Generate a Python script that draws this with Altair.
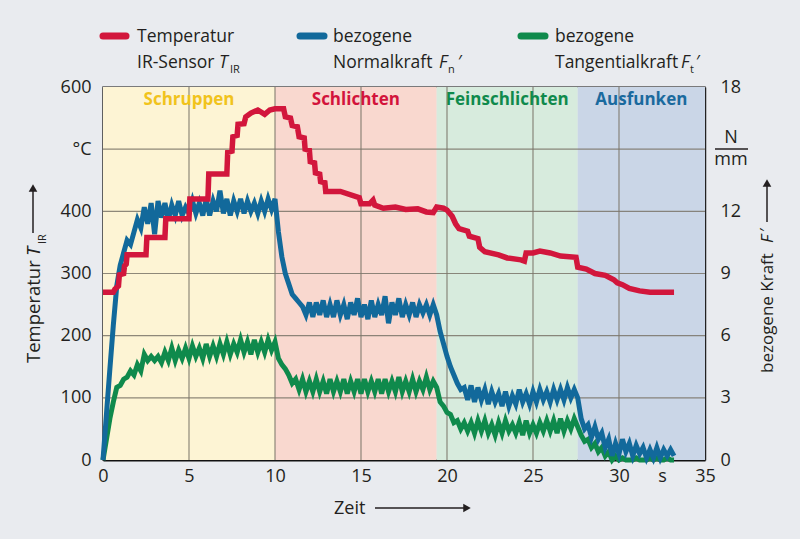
import altair as alt
import numpy as np
import pandas as pd

# ---------------- data ----------------
phase_names = ["Schruppen", "Schlichten", "Feinschlichten", "Ausfunken"]
phase_start = [0, 10, 19.4, 27.6]
phase_end = [10, 19.4, 27.6, 35]
phase_fill = ["#fdf4d4", "#f9d8cf", "#d7ebdd", "#cad6e7"]
phase_text = ["#f1c31c", "#d3133b", "#0f8a4c", "#1a6a9e"]

grid_x = [5, 10, 15, 20, 25, 30]
grid_y = [100, 200, 300, 400, 500]

# temperature IR sensor (°C)
temp_t = [0, 0.6, 0.7, 0.9, 0.95, 1.2, 1.25, 1.35, 1.4, 2.5, 2.55, 3.6, 3.65, 5.0, 5.05, 6.1, 6.15,
          7.2, 7.25, 7.5, 7.55, 7.8, 7.85, 8.2, 8.3, 8.6, 9.0, 9.4, 9.7, 10.0, 10.5, 10.6, 10.9,
          11.0, 11.3, 11.4, 11.7, 11.75, 12.0, 12.05, 12.3, 12.35, 12.6, 12.65, 12.9, 12.95, 13.8,
          14.9, 15.0, 15.5, 15.7, 15.8, 16.3, 17.0, 17.6, 18.3, 18.8, 19.2, 19.4, 19.8, 20.0, 20.3,
          20.5, 20.7, 21.2, 21.3, 21.8, 21.9, 22.2, 23.0, 23.5, 24.3, 24.5, 24.6, 25.0, 25.4, 26.0,
          26.6, 27.5, 27.6, 28.1, 28.6, 29.2, 29.7, 29.9, 30.2, 30.6, 31.2, 31.8, 33.2]
temp_v = [270, 270, 275, 280, 298, 300, 312, 315, 330, 330, 358, 358, 388, 388, 420, 420, 460,
          460, 495, 497, 520, 522, 540, 541, 552, 558, 563, 556, 563, 565, 565, 552, 550,
          538, 536, 520, 518, 500, 498, 480, 478, 462, 460, 448, 446, 432, 432,
          422, 412, 412, 418, 410, 405, 407, 403, 404, 399, 398, 407, 405, 402, 392,
          380, 372, 368, 360, 356, 342, 335, 330, 325, 322, 320, 333, 333, 336, 333,
          328, 326, 310, 307, 300, 297, 290, 285, 282, 276, 272, 270, 270]

# force sampling times (s), every 0.2 s
force_t = [round(0.2 * i, 1) for i in range(167)]

# normal force F_n' (N/mm)
normal_force = [
    0, 2.2, 4.4, 6.5, 8.4, 9.4, 10.0, 10.6, 10.4, 11.0,
    11.6, 11.2, 12.2, 11.4, 12.4, 10.9, 12.5, 11.7, 12.4, 11.6,
    12.3, 11.8, 12.5, 11.8, 12.2, 11.9, 12.5, 11.9, 12.4, 11.8,
    12.6, 11.8, 12.5, 12.0, 13.0, 11.9, 12.6, 11.8, 12.5, 12.0,
    12.6, 11.9, 12.5, 12.0, 12.4, 11.9, 12.5, 12.0, 12.6, 12.1,
    12.6, 11.0, 9.8, 9.0, 8.5, 8.0, 7.8, 7.6, 7.4, 7.0,
    7.6, 6.9, 7.6, 7.0, 7.7, 6.9, 7.5, 6.9, 7.7, 7.0,
    7.5, 6.8, 7.6, 7.0, 7.8, 6.9, 7.5, 6.8, 7.7, 6.9,
    7.5, 7.0, 7.9, 6.6, 7.6, 7.0, 7.8, 6.9, 7.5, 7.0,
    7.6, 6.9, 7.5, 7.1, 7.5, 7.0, 7.5, 7.0, 6.2, 5.6,
    5.0, 4.5, 4.1, 3.7, 3.4, 3.5, 2.9, 3.6, 2.8, 3.5,
    2.9, 3.4, 2.7, 3.3, 2.8, 3.2, 2.6, 3.3, 2.6, 3.1,
    2.7, 3.4, 2.8, 3.2, 2.7, 3.3, 2.8, 3.4, 2.9, 3.3,
    2.8, 3.4, 2.9, 3.4, 2.9, 3.5, 3.0, 3.4, 3.0, 2.0,
    1.5, 1.7, 1.1, 1.6, 1.0, 1.3, 0.6, 1.0, 0.2, 0.8,
    0.3, 1.0, 0.4, 0.8, 0.2, 0.7, 0.3, 0.6, 0.1, 0.5,
    0.1, 0.6, 0.1, 0.5, 0.2, 0.5, 0.2]

# tangential force F_t' (N/mm)
tangential_force = [
    0, 1.0, 2.0, 2.8, 3.5, 3.6, 3.9, 4.0, 4.3, 4.1,
    4.6, 4.3, 5.1, 4.8, 5.0, 4.8, 5.0, 4.7, 5.2, 4.8,
    5.4, 4.8, 5.3, 4.9, 5.4, 4.9, 5.5, 5.0, 5.4, 4.9,
    5.6, 5.0, 5.5, 5.0, 5.6, 5.1, 5.7, 5.1, 5.6, 5.2,
    5.8, 5.2, 5.7, 5.1, 5.8, 5.2, 5.7, 5.2, 5.8, 5.3,
    5.7, 4.9, 4.6, 4.4, 4.1, 3.7, 3.9, 3.4, 3.9, 3.3,
    3.8, 3.3, 3.9, 3.3, 3.8, 3.2, 3.9, 3.3, 3.8, 3.3,
    3.9, 3.2, 3.8, 3.3, 3.9, 3.2, 3.9, 3.3, 3.8, 3.3,
    3.9, 3.2, 3.9, 3.3, 3.8, 3.3, 4.0, 3.3, 3.8, 3.3,
    3.9, 3.3, 3.8, 3.4, 4.0, 3.4, 3.8, 3.5, 2.8, 2.6,
    2.3, 2.2, 1.8, 1.9, 1.5, 1.8, 1.4, 1.8, 1.3, 1.9,
    1.4, 1.9, 1.3, 1.7, 1.2, 1.8, 1.3, 1.9, 1.4, 1.7,
    1.3, 1.8, 1.2, 1.9, 1.3, 1.7, 1.3, 1.8, 1.4, 1.9,
    1.4, 1.9, 1.3, 2.0, 1.4, 1.9, 1.5, 2.0, 1.6, 1.2,
    0.9, 1.0, 0.6, 0.8, 0.4, 0.6, 0.2, 0.4, 0.0, 0.2,
    0.0, 0.1, 0.0, 0.0, 0.0, 0.1, 0.0, 0.0, 0.0, 0.1,
    0.0, 0.1, 0.0, 0.0, 0.1, 0.0, 0.0]

x_ticks = [0, 5, 10, 15, 20, 25, 30, 32.5, 35]
temp_ticks = [0, 100, 200, 300, 400, 500, 600]
force_ticks = [0, 3, 6, 9, 12, 15, 18]

RED, BLUE, GREEN = "#d2163c", "#12699b", "#0f8a4c"

# ---------------- layout ----------------
W, H = 602, 373
FONT = "Open Sans"
INK = "#231f20"
FS = 18
LFS = 17.5

phase_df = pd.DataFrame({"name": phase_names, "start": phase_start, "end": phase_end,
                         "fill": phase_fill, "tcolor": phase_text})
temp_df = pd.DataFrame({"t": temp_t, "T": temp_v})
force_df = pd.DataFrame({"t": force_t, "Fn": normal_force, "Ft": tangential_force})

xs = alt.Scale(domain=[0, 35], nice=False, zero=False)
x_axis = alt.Axis(values=x_ticks, labelExpr="datum.value == 32.5 ? 's' : datum.label",
                  ticks=False, grid=False, domainColor="#111", domainWidth=2,
                  labelFontSize=FS, labelPadding=7, labelColor=INK, labelFont=FONT,
                  title=None, labelOverlap=False, labelFlush=False)
temp_scale = alt.Scale(domain=[0, 600], nice=False, zero=True)
force_scale = alt.Scale(domain=[0, 18], nice=False, zero=True)


def X(field):
    return alt.X(field, scale=xs, axis=x_axis)


regions = alt.Chart(phase_df).mark_rect().encode(
    x=X("start:Q"), x2="end:Q", y=alt.value(0), y2=alt.value(H),
    color=alt.Color("fill:N", scale=None))

region_labels = alt.Chart(phase_df).transform_calculate(
    mid="(datum.start + datum.end) / 2").mark_text(
    font=FONT, fontSize=17, fontWeight="bold", baseline="middle").encode(
    x=X("mid:Q"), y=alt.value(13), text="name:N", color=alt.Color("tcolor:N", scale=None))

vgrid = alt.Chart(pd.DataFrame({"g": grid_x})).mark_rule(
    color="#7a7468", strokeWidth=1.2, opacity=0.85).encode(x=X("g:Q"))
hgrid = alt.Chart(pd.DataFrame({"g": grid_y})).mark_rule(
    color="#7a7468", strokeWidth=1.2, opacity=0.85).encode(
    y=alt.Y("g:Q", scale=temp_scale, axis=None))

green_line = alt.Chart(force_df).mark_line(color=GREEN, strokeWidth=5).encode(
    x=X("t:Q"), y=alt.Y("Ft:Q", scale=force_scale, axis=None))
blue_line = alt.Chart(force_df).mark_line(color=BLUE, strokeWidth=5).encode(
    x=X("t:Q"),
    y=alt.Y("Fn:Q", scale=force_scale,
            axis=alt.Axis(orient="right", values=force_ticks,
                          labelExpr="datum.value == 15 ? '' : datum.label",
                          ticks=False, grid=False, domainColor="#222", domainWidth=1.5,
                          labelFontSize=FS, labelPadding=15, labelColor=INK, labelFont=FONT,
                          title=None, labelAlign="left")))
red_line = alt.Chart(temp_df).mark_line(color=RED, strokeWidth=5.5).encode(
    x=X("t:Q"),
    y=alt.Y("T:Q", scale=temp_scale,
            axis=alt.Axis(orient="left", values=temp_ticks,
                          labelExpr="datum.value == 500 ? '°C' : datum.label",
                          ticks=False, grid=False, domainColor="#111", domainWidth=1.5,
                          labelFontSize=FS, labelPadding=12, labelColor=INK, labelFont=FONT,
                          title=None)))


# ---------------- annotations (pixel positions in view coordinates) ----------------
def note(rows, **kw):
    df = pd.DataFrame(rows, columns=["px", "py", "txt"])
    opts = dict(font=FONT, color=INK, fontSize=FS, align="left", baseline="alphabetic")
    opts.update(kw)
    return alt.Chart(df).mark_text(**opts).encode(
        x=alt.X("px:Q", scale=None, axis=None), y=alt.Y("py:Q", scale=None, axis=None),
        text="txt:N")


def seg(rows, **kw):
    df = pd.DataFrame(rows, columns=["x1", "y1", "x2", "y2", "c"])
    return alt.Chart(df).mark_rule(**kw).encode(
        x=alt.X("x1:Q", scale=None, axis=None), y=alt.Y("y1:Q", scale=None, axis=None),
        x2="x2:Q", y2="y2:Q", color=alt.Color("c:N", scale=None))


def head(rows, shape):
    df = pd.DataFrame(rows, columns=["px", "py"])
    return alt.Chart(df).mark_point(shape=shape, filled=True, size=75, color=INK, opacity=1).encode(
        x=alt.X("px:Q", scale=None, axis=None), y=alt.Y("py:Q", scale=None, axis=None))


OX, OY = 103, 87  # page position of the plot origin
L1, L2, LS = 42, 68, 73  # legend baselines (page px)

legend_swatches = seg([
    (100 - OX + 3, 36 - OY, 129 - OX - 3, 36 - OY, RED),
    (297 - OX + 3, 36 - OY, 327 - OX - 3, 36 - OY, BLUE),
    (518 - OX + 3, 36 - OY, 548 - OX - 3, 36 - OY, GREEN),
], strokeWidth=7, strokeCap="round")

legend_text = note([
    (137 - OX, L1 - OY, "Temperatur"),
    (137 - OX, L2 - OY, "IR-Sensor"),
    (333 - OX, L1 - OY, "bezogene"),
    (333 - OX, L2 - OY, "Normalkraft"),
    (555 - OX, L1 - OY, "bezogene"),
    (555 - OX, L2 - OY, "Tangentialkraft"),
    (458 - OX, L2 - OY, "′"),
    (696 - OX, L2 - OY, "′"),
], fontSize=LFS)
legend_italic = note([
    (219 - OX, L2 - OY, "T"),
    (439 - OX, L2 - OY, "F"),
    (681 - OX, L2 - OY, "F"),
], fontStyle="italic", fontSize=LFS)
legend_sub = note([
    (230 - OX, LS - OY, "IR"),
    (448 - OX, LS - OY, "n"),
    (690 - OX, LS - OY, "t"),
], fontSize=11)

zeit = note([(334 - OX, 514 - OY, "Zeit")])

unit_text = note([
    (731 - OX, 143 - OY, "N"),
    (731 - OX, 165 - OY, "mm"),
], align="center")
unit_bar = seg([(715 - OX, 149 - OY, 748 - OX, 149 - OY, INK)], strokeWidth=1.5)

# rotated axis titles
left_title = note([(40 - OX, 363 - OY, "Temperatur")], angle=270, fontSize=18.5)
left_T = note([(40 - OX, 256 - OY, "T")], angle=270, fontStyle="italic", fontSize=18.5)
left_sub = note([(46 - OX, 244 - OY, "IR")], angle=270, fontSize=11)
right_title = note([(773 - OX, 373 - OY, "bezogene Kraft")], angle=270, fontSize=17)
right_F = note([(773 - OX, 243 - OY, "F")], angle=270, fontStyle="italic", fontSize=17)
right_prime = note([(772 - OX, 232 - OY, "′")], angle=270, fontSize=17)

arrows = seg([
    (33 - OX, 233 - OY, 33 - OX, 190 - OY, INK),
    (767 - OX, 222 - OY, 767 - OX, 186 - OY, INK),
    (375 - OX, 508 - OY, 464 - OX, 508 - OY, INK),
], strokeWidth=1.5)
head_up = head([(33 - OX, 188 - OY), (767 - OX, 183 - OY)], "triangle-up")
head_right = head([(467 - OX, 508 - OY)], "triangle-right")

chart = alt.layer(
    regions, vgrid, hgrid, region_labels, green_line, blue_line, red_line,
    legend_swatches, legend_text, legend_italic, legend_sub, zeit, unit_text, unit_bar,
    left_title, left_T, left_sub, right_title, right_F, right_prime,
    arrows, head_up, head_right,
).resolve_scale(y="independent").properties(
    width=W, height=H,
    padding={"left": 103, "top": 87, "right": 95, "bottom": 79},
    autosize=alt.AutoSizeParams(type="none"),
    background="#e9ebef",
).configure_view(stroke="#555", strokeWidth=1.5)

chart.save("out.html", embed_options={"renderer": "svg", "actions": False})
